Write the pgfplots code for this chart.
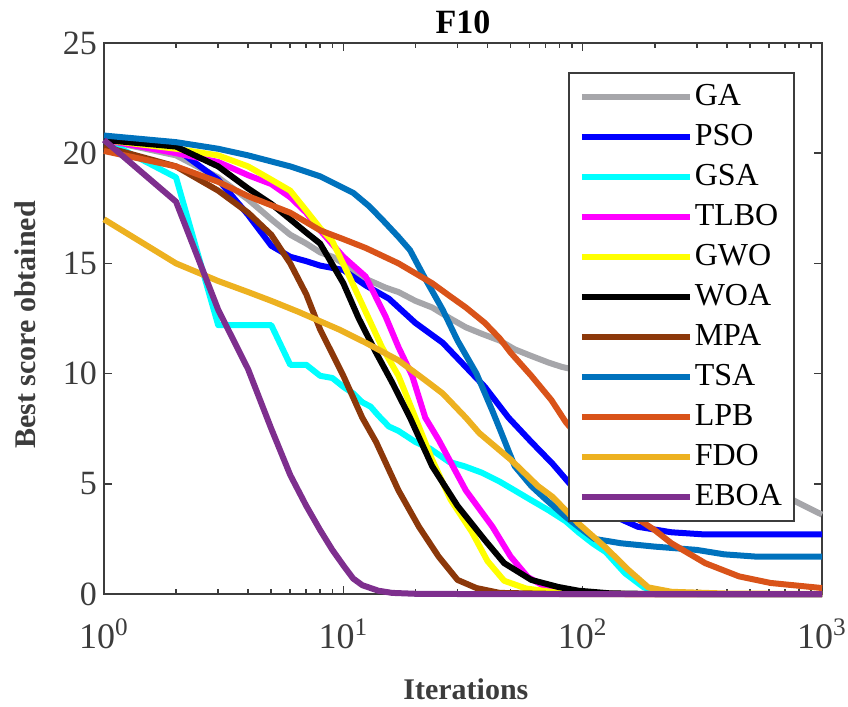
\documentclass[border=0pt]{standalone}
\usepackage{fontspec}
\setmainfont{Liberation Serif}
\usepackage{pgfplots}
\pgfplotsset{compat=1.18}
\definecolor{cGA}{RGB}{166,166,170}
\definecolor{cPSO}{RGB}{0,0,255}
\definecolor{cGSA}{RGB}{0,255,255}
\definecolor{cTLBO}{RGB}{255,0,255}
\definecolor{cGWO}{RGB}{255,255,0}
\definecolor{cWOA}{RGB}{0,0,0}
\definecolor{cMPA}{RGB}{140,56,10}
\definecolor{cTSA}{RGB}{0,114,189}
\definecolor{cLPB}{RGB}{217,83,25}
\definecolor{cFDO}{RGB}{237,177,32}
\definecolor{cEBOA}{RGB}{126,47,142}
\definecolor{axc}{RGB}{60,60,60}
\begin{document}
\begin{tikzpicture}
\begin{axis}[
  scale only axis,
  width=359pt, height=275.5pt,
  xmode=log, xmin=1, xmax=1000, ymin=0, ymax=25,
  xtick={1,10,100,1000},
  xticklabels={{10\textsuperscript{0}},{10\textsuperscript{1}},{10\textsuperscript{2}},{10\textsuperscript{3}}},
  ytick={0,5,10,15,20,25},
  yticklabels={0,5,10,15,20,25},
  tick label style={font=\fontsize{17}{20}\selectfont, text=axc},
  xticklabel style={font=\fontsize{18}{21}\selectfont, yshift=-9pt},
  axis line style={axc, line width=0.85pt},
  every tick/.style={axc, line width=0.8pt},
  major tick length=4pt, minor tick length=2.3pt,
  tick align=inside,
  clip=false,
  title={\textbf{F10}},
  title style={font=\fontsize{17}{20}\selectfont, at={(axis description cs:0.5,1.0163)}, anchor=base, yshift=-6pt},
  xlabel={\textbf{Iterations}},
  xlabel style={font=\fontsize{15}{18}\selectfont, text=axc, at={(axis description cs:0.504,-0.1906)}, anchor=base},
  ylabel={\textbf{Best score obtained}},
  ylabel style={font=\fontsize{15}{18}\selectfont, text=axc, at={(axis description cs:-0.110,0.488)}, anchor=center},
  legend cell align=left,
  legend style={at={(axis description cs:0.962,0.947)}, anchor=north east,
    draw=axc, line width=0.85pt, font=\fontsize{16}{19}\selectfont,
    nodes={inner sep=1pt, text height=12pt, text depth=4pt},
    row sep=2pt, inner xsep=5pt, inner ysep=3pt},
  legend image code/.code={\draw[#1, line width=3pt] (0pt,0pt) -- (54pt,0pt);},
  every axis plot/.append style={line width=3pt, line join=round},
]
\addplot[cGA] coordinates {(1,20.6)(2,19.9)(3,18.9)(4,17.9)(5,17.0)(6,16.3)(7,15.9)(8,15.5)(9,15.3)(10,15.0)(12.4,14.3)(15,13.9)(17,13.7)(20,13.3)(23.5,13.0)(28,12.5)(32.5,12.1)(38,11.8)(45,11.5)(52,11.1)(61,10.8)(72,10.5)(82,10.3)(100,10.1)(130,9.6)(160,9.1)(200,8.5)(250,7.9)(300,7.3)(400,6.3)(500,5.5)(650,4.7)(775,4.2)(1000,3.6)};
\addlegendentry{GA}
\addplot[cPSO] coordinates {(1,20.6)(2,20.2)(3,18.8)(4,17.2)(5,15.8)(6,15.3)(7,15.1)(8,14.9)(10,14.7)(12.4,14.0)(15.5,13.4)(20,12.3)(26,11.4)(32.5,10.3)(39,9.4)(49,8.0)(61,6.9)(75,5.9)(90,4.9)(105,4.2)(125,3.7)(170,3.05)(235,2.8)(325,2.7)(1000,2.7)};
\addlegendentry{PSO}
\addplot[cGSA] coordinates {(1,20.6)(2,18.9)(3,12.2)(4,12.2)(5,12.2)(6,10.4)(7,10.4)(8,9.9)(9,9.8)(10,9.4)(11,9.1)(12,8.7)(13,8.5)(14,8.1)(15.5,7.6)(17,7.4)(20,6.9)(23,6.6)(27.6,6.0)(32,5.8)(38,5.5)(45,5.1)(52,4.7)(60,4.3)(72,3.8)(85,3.3)(96,2.8)(110,2.3)(125,1.9)(150,0.95)(180,0.3)(220,0.05)(300,0)(1000,0)};
\addlegendentry{GSA}
\addplot[cTLBO] coordinates {(1,20.6)(2,20.0)(3,19.6)(4,19.0)(5,18.6)(6,18.0)(7,17.3)(8,16.5)(10,15.3)(12.4,14.4)(15,12.6)(17,11.2)(19.4,9.9)(22,8.0)(25,7.0)(32.5,4.7)(42,3.05)(50,1.7)(59,0.77)(70,0.32)(90,0.05)(150,0)(1000,0)};
\addlegendentry{TLBO}
\addplot[cGWO] coordinates {(1,20.6)(2,20.2)(3,19.9)(4,19.4)(5,18.8)(6,18.3)(7,17.4)(8,16.6)(9,16.0)(10.6,14.4)(12.4,12.8)(14.5,11.2)(17,9.9)(20,8.0)(23.5,6.1)(28,4.3)(34.5,2.8)(40,1.5)(47,0.6)(58,0.25)(80,0.05)(150,0)(1000,0)};
\addlegendentry{GWO}
\addplot[cWOA] coordinates {(1,20.6)(2,20.3)(3,19.4)(4,18.4)(5,17.7)(6,17.0)(7,16.4)(8,15.9)(10,14.1)(11.6,12.5)(13.7,10.95)(16,9.6)(19,8.0)(23.5,5.8)(30,4.0)(39,2.45)(47,1.4)(61,0.64)(79,0.32)(96,0.15)(130,0.03)(200,0)(1000,0)};
\addlegendentry{WOA}
\addplot[cMPA] coordinates {(1,20.3)(2,19.4)(3,18.3)(4,17.3)(5,16.3)(6,15.0)(7,13.6)(8,12.0)(10,9.9)(12,8.0)(13.7,6.9)(17,4.7)(20.7,3.05)(25,1.7)(30,0.64)(36,0.27)(45,0.05)(80,0)(1000,0)};
\addlegendentry{MPA}
\addplot[cTSA] coordinates {(1,20.8)(2,20.5)(3,20.2)(4,19.9)(6,19.4)(8,18.95)(11,18.2)(12.8,17.6)(14.5,17.0)(17,16.2)(19,15.6)(22,14.3)(26,12.9)(30,11.5)(36,10.0)(42,8.3)(45,7.5)(52,5.8)(61,4.9)(70,4.3)(85,3.5)(100,2.9)(112,2.5)(145,2.3)(200,2.15)(300,2.0)(390,1.8)(525,1.7)(1000,1.7)};
\addlegendentry{TSA}
\addplot[cLPB] coordinates {(1,20.1)(2,19.4)(3,18.7)(4,18.05)(6,17.3)(8,16.5)(10,16.1)(12.4,15.7)(17,15.0)(23.5,14.1)(28,13.5)(32.5,13.0)(39,12.3)(45,11.6)(50,10.95)(61,9.9)(74,8.8)(85,7.8)(100,6.9)(130,5.0)(160,3.6)(200,2.9)(235,2.3)(325,1.4)(450,0.8)(610,0.5)(1000,0.27)};
\addlegendentry{LPB}
\addplot[cFDO] coordinates {(1,17.0)(2,15.0)(3,14.2)(4,13.7)(5,13.3)(6.5,12.8)(9.6,12.0)(12.4,11.4)(17,10.6)(22,9.7)(26,9.1)(32.5,8.0)(37,7.3)(50,6.1)(65,4.9)(75,4.4)(96,3.2)(125,2.1)(155,1.1)(188,0.3)(235,0.1)(400,0.02)(1000,0)};
\addlegendentry{FDO}
\addplot[cEBOA] coordinates {(1,20.6)(2,17.8)(3,12.9)(4,10.2)(5,7.5)(6,5.4)(7,4.0)(8,2.9)(9,2.0)(10,1.3)(11,0.7)(12,0.4)(14,0.15)(16,0.05)(20,0.01)(30,0)(1000,0)};
\addlegendentry{EBOA}
\coordinate (bbl) at (rel axis cs:-0.1448,-0.2033);
\coordinate (btr) at (rel axis cs:1.0362,1.078);
\end{axis}
\pgfresetboundingbox
\path[use as bounding box] (bbl) rectangle (btr);
\end{tikzpicture}
\end{document}
